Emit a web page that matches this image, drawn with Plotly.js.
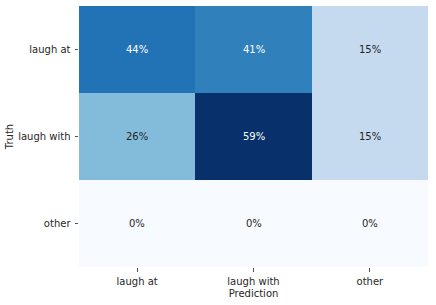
<!DOCTYPE html>
<html>
<head>
<meta charset="utf-8">
<script src="https://cdn.plot.ly/plotly-3.0.1.min.js"></script>
<style>html,body{margin:0;padding:0;background:#fff;}#chart{width:436px;height:305px;}</style>
</head>
<body>
<div id="chart"></div>
<script>
const predLabels = ["laugh at", "laugh with", "other"];
const truthLabels = ["laugh at", "laugh with", "other"];
const pctRowLaughAt = [44, 41, 15];
const pctRowLaughWith = [26, 59, 15];
const pctRowOther = [0, 0, 0];

const z = [pctRowLaughAt, pctRowLaughWith, pctRowOther];
const zmax = Math.max(...z.flat());

const blues = [
  [0, "#f7fbff"], [0.125, "#deebf7"], [0.25, "#c6dbef"], [0.375, "#9ecae1"],
  [0.5, "#6baed6"], [0.625, "#4292c6"], [0.75, "#2171b5"], [0.875, "#08519c"], [1, "#08306b"]
];

const annotations = [];
z.forEach((row, i) => {
  row.forEach((v, j) => {
    annotations.push({
      x: predLabels[j], y: truthLabels[i], xref: "x", yref: "y",
      text: v + "%", showarrow: false,
      font: {family: "DejaVu Sans", size: 10, color: (v / zmax > 0.6) ? "#ffffff" : "#262626"}
    });
  });
});

const trace = {
  type: "heatmap",
  x: predLabels, y: truthLabels, z: z,
  colorscale: blues, zmin: 0, zmax: zmax,
  showscale: false, hoverinfo: "skip"
};

const layout = {
  width: 436, height: 305,
  margin: {l: 79, r: 8, t: 6, b: 38},
  paper_bgcolor: "#fff", plot_bgcolor: "#fff",
  font: {family: "DejaVu Sans", size: 10, color: "#262626"},
  xaxis: {
    type: "category", showgrid: false, zeroline: false, showline: false,
    ticks: "outside", ticklen: 3.5, tickwidth: 0.8, tickcolor: "#262626",
    ticklabelstandoff: 1,
    tickfont: {size: 10, color: "#262626"},
    title: {text: "Prediction", font: {size: 10, color: "#262626"}, standoff: 4}
  },
  yaxis: {
    type: "category", autorange: "reversed", showgrid: false, zeroline: false, showline: false,
    ticks: "outside", ticklen: 3.5, tickwidth: 0.8, tickcolor: "#262626",
    ticklabelstandoff: 2,
    tickfont: {size: 10, color: "#262626"},
    title: {text: "Truth", font: {size: 10, color: "#262626"}, standoff: 2}
  },
  annotations: annotations
};

Plotly.newPlot("chart", [trace], layout, {staticPlot: true, displayModeBar: false});
</script>
</body>
</html>
